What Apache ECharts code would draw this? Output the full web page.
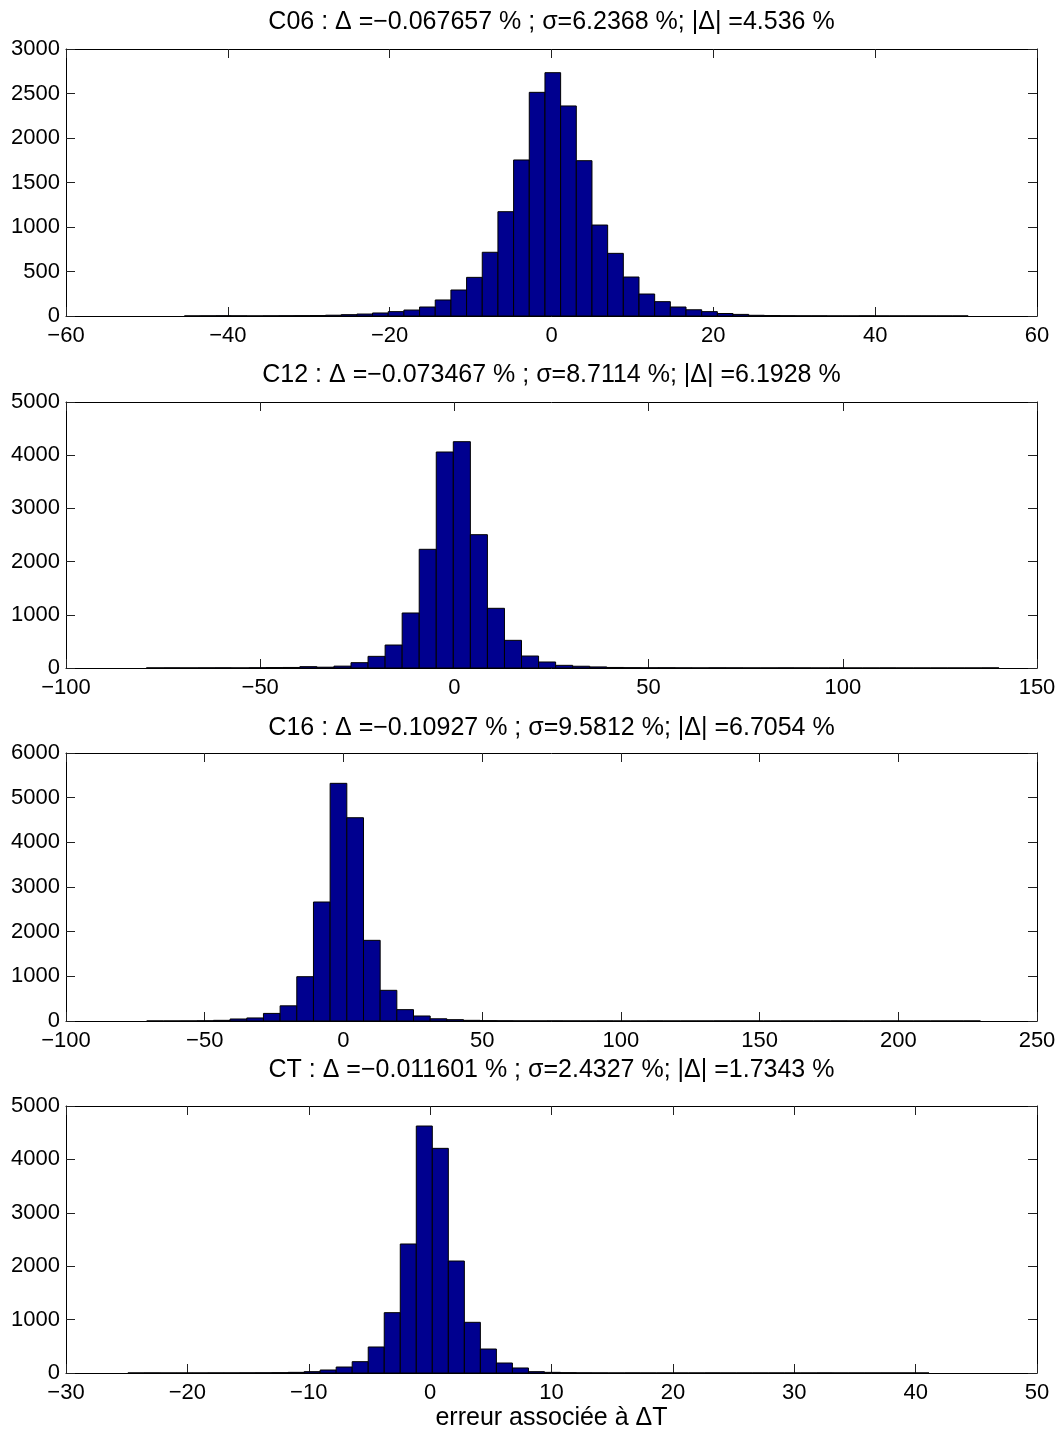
<!DOCTYPE html>
<html lang="fr">
  <head>
    <meta charset="UTF-8" />
    <title>Histogrammes erreur</title>
    <script src="https://cdn.jsdelivr.net/npm/echarts@6/dist/echarts.min.js"></script>
    <style>
      body { margin: 0; background: #fff; }
      #chart { width: 1062px; height: 1432px; }
    </style>
  </head>
  <body>
    <div id="chart"></div>
    <script>
      // histogram bins: first edge, bin width, counts (50 bins each)
      const c06Start = -45.36, c06Width = 1.937
      const c06Counts = [1, 2, 3, 2, 1, 2, 3, 4, 5, 9,
        15, 22, 34, 49, 67, 101, 180, 292, 434, 716,
        1172, 1753, 2513, 2734, 2360, 1745, 1022, 704, 438, 247,
        161, 101, 70, 49, 28, 18, 8, 5, 3, 2,
        2, 1, 1, 2, 1, 1, 1, 1, 1, 1]

      const c12Start = -79.3, c12Width = 4.39
      const c12Counts = [2, 3, 2, 3, 4, 2, 5, 8, 10, 25,
        15, 35, 100, 219, 432, 1034, 2231, 4060, 4254, 2506,
        1122, 520, 225, 113, 50, 33, 20, 10, 6, 4,
        5, 3, 2, 4, 3, 2, 2, 3, 2, 1,
        2, 1, 1, 2, 1, 1, 1, 1, 1, 2]

      const c16Start = -70.9, c16Width = 6.01
      const c16Counts = [1, 1, 2, 5, 15, 45, 68, 170, 340, 992,
        2664, 5321, 4551, 1806, 687, 254, 112, 50, 30, 15,
        8, 5, 3, 2, 3, 2, 1, 2, 1, 1,
        2, 1, 1, 1, 2, 1, 1, 1, 1, 1,
        1, 2, 1, 1, 1, 1, 1, 1, 1, 1]

      const ctStart = -24.9, ctWidth = 1.32
      const ctCounts = [1, 2, 1, 1, 1, 2, 2, 3, 4, 6,
        12, 25, 56, 112, 212, 487, 1130, 2416, 4625, 4207,
        2097, 949, 449, 187, 94, 25, 12, 6, 3, 2,
        1, 2, 1, 1, 1, 1, 2, 1, 1, 1,
        1, 1, 1, 2, 1, 1, 1, 1, 1, 1]

      const titles = [
        'C06 : \u0394 =\u22120.067657 % ; \u03c3=6.2368 %; |\u0394| =4.536 %',
        'C12 : \u0394 =\u22120.073467 % ; \u03c3=8.7114 %; |\u0394| =6.1928 %',
        'C16 : \u0394 =\u22120.10927 % ; \u03c3=9.5812 %; |\u0394| =6.7054 %',
        'CT : \u0394 =\u22120.011601 % ; \u03c3=2.4327 %; |\u0394| =1.7343 %'
      ]
      const xLabel = 'erreur associ\u00e9e \u00e0 \u0394T'

      // axis ranges [xmin, xmax, xstep] and [ymax, ystep]
      const xRanges = [[-60, 60, 20], [-100, 150, 50], [-100, 250, 50], [-30, 50, 10]]
      const yRanges = [[3000, 500], [5000, 1000], [6000, 1000], [5000, 1000]]

      const panels = [
        [c06Start, c06Width, c06Counts],
        [c12Start, c12Width, c12Counts],
        [c16Start, c16Width, c16Counts],
        [ctStart, ctWidth, ctCounts]
      ]

      const gridTops = [49, 402, 753, 1106]
      const gridHeights = [267, 266, 268, 267]
      const titleY = [22, 375, 728, 1070]
      const font = 'Liberation Sans'

      const minus = (v) => String(v).replace('-', '\u2212')

      const grid = [], xAxis = [], yAxis = [], series = [], graphic = []

      panels.forEach(([start, width, counts], i) => {
        grid.push({ left: 66, width: 971, top: gridTops[i], height: gridHeights[i] })
        const [xmin, xmax, xstep] = xRanges[i]
        const [ymax, ystep] = yRanges[i]
        const line = { show: true, onZero: false, lineStyle: { color: '#000', width: 1 } }
        const tick = { show: true, inside: true, length: 9, lineStyle: { color: '#222' } }
        ;['bottom', 'top'].forEach((pos) => {
          xAxis.push({
            type: 'value', gridIndex: i, position: pos, min: xmin, max: xmax, interval: xstep,
            axisLine: line, axisTick: tick, splitLine: { show: false },
            axisLabel: {
              show: pos === 'bottom', margin: 9, color: '#000', fontSize: 22, fontFamily: font,
              formatter: minus, showMinLabel: true, showMaxLabel: true
            }
          })
        })
        ;['left', 'right'].forEach((pos) => {
          yAxis.push({
            type: 'value', gridIndex: i, position: pos, min: 0, max: ymax, interval: ystep,
            axisLine: line, axisTick: tick, splitLine: { show: false },
            axisLabel: {
              show: pos === 'left', margin: 6, color: '#000', fontSize: 22, fontFamily: font,
              formatter: (v) => String(v), showMinLabel: true, showMaxLabel: true
            }
          })
        })
        series.push({
          type: 'custom',
          xAxisIndex: 2 * i,
          yAxisIndex: 2 * i,
          encode: { x: [0, 1], y: 2 },
          data: counts.map((c, k) => [start + k * width, start + (k + 1) * width, c]),
          renderItem: (params, api) => {
            const p0 = api.coord([api.value(0), api.value(2)])
            const p1 = api.coord([api.value(1), 0])
            return {
              type: 'rect',
              shape: { x: p0[0], y: p0[1], width: p1[0] - p0[0], height: p1[1] - p0[1] },
              style: { fill: '#00008f', stroke: '#000', lineWidth: 1 }
            }
          }
        })
        graphic.push({
          type: 'text', x: 551.5, y: titleY[i],
          style: {
            text: titles[i], fill: '#000', font: '25px "Liberation Sans"',
            align: 'center', verticalAlign: 'middle', textAlign: 'center', textVerticalAlign: 'middle'
          }
        })
      })

      graphic.push({
        type: 'text', x: 551.5, y: 1418,
        style: {
          text: xLabel, fill: '#000', font: '25px "Liberation Sans"',
          align: 'center', verticalAlign: 'middle', textAlign: 'center', textVerticalAlign: 'middle'
        }
      })

      const myChart = echarts.init(document.getElementById('chart'))
      myChart.setOption({
        animation: false,
        grid: grid,
        xAxis: xAxis,
        yAxis: yAxis,
        series: series,
        graphic: graphic
      })
    </script>
  </body>
</html>
